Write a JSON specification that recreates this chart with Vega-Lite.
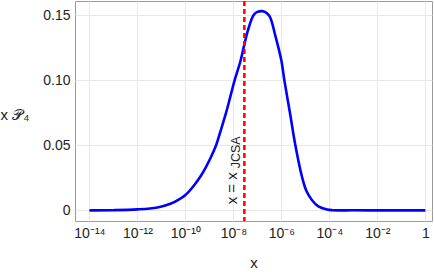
{
  "$schema": "https://vega.github.io/schema/vega-lite/v6.json",
  "width": 357,
  "height": 220,
  "autosize": {"type": "none"},
  "padding": {"left": 75, "top": 1, "right": 2, "bottom": 51},
  "background": "white",
  "config": {
    "view": {"stroke": "#9a9a9a", "strokeWidth": 1},
    "font": "Liberation Sans",
    "axis": {"labelFont": "Liberation Sans", "titleFont": "Liberation Sans", "labelColor": "#222222", "titleColor": "#222222", "titleFontWeight": "normal"}
  },
  "datasets": {
    "curve": [
      {"x": 1e-14, "p": 0},
      {"x": 1e-13, "p": 0.0001},
      {"x": 1e-12, "p": 0.0007},
      {"x": 6.8e-12, "p": 0.0022},
      {"x": 2.37e-11, "p": 0.005},
      {"x": 6.19e-11, "p": 0.009},
      {"x": 1e-10, "p": 0.0117},
      {"x": 2.15e-10, "p": 0.0185},
      {"x": 4.22e-10, "p": 0.026},
      {"x": 6.81e-10, "p": 0.0325},
      {"x": 1.1e-9, "p": 0.04},
      {"x": 1.9e-9, "p": 0.05},
      {"x": 2.87e-9, "p": 0.0605},
      {"x": 4.96e-9, "p": 0.075},
      {"x": 7.5e-9, "p": 0.0875},
      {"x": 1.13e-8, "p": 0.1},
      {"x": 1.96e-8, "p": 0.1145},
      {"x": 2.87e-8, "p": 0.1275},
      {"x": 4.22e-8, "p": 0.1395},
      {"x": 7.01e-8, "p": 0.15},
      {"x": 1e-7, "p": 0.1524},
      {"x": 1.57e-7, "p": 0.153},
      {"x": 2.15e-7, "p": 0.1522},
      {"x": 3.25e-7, "p": 0.149},
      {"x": 5.62e-7, "p": 0.134},
      {"x": 1e-6, "p": 0.115},
      {"x": 1.33e-6, "p": 0.1},
      {"x": 2.37e-6, "p": 0.073},
      {"x": 3.83e-6, "p": 0.05},
      {"x": 7.28e-6, "p": 0.0256},
      {"x": 1.1e-5, "p": 0.015},
      {"x": 1.9e-5, "p": 0.0077},
      {"x": 3.48e-5, "p": 0.003},
      {"x": 8.02e-5, "p": 0.0006},
      {"x": 1.33e-4, "p": 0.0001},
      {"x": 1e-3, "p": 0},
      {"x": 1e-2, "p": 0},
      {"x": 1e-1, "p": 0},
      {"x": 1, "p": 0}
    ]
  },
  "layer": [
    {
      "data": {"name": "curve"},
      "mark": {"type": "line", "color": "#0000ff", "strokeWidth": 2.6, "interpolate": "catmull-rom", "clip": true},
      "encoding": {
        "x": {
          "field": "x", "type": "quantitative",
          "scale": {"type": "log", "domain": [2.5e-15, 1.9], "nice": false},
          "axis": {
            "values": [1e-14, 1e-12, 1e-10, 1e-8, 1e-6, 1e-4, 1e-2, 1],
            "labelExpr": "round(log(datum.value)/LN10) == 0 ? '1' : round(log(datum.value)/LN10) == -2 ? '10⁻²' : round(log(datum.value)/LN10) == -4 ? '10⁻⁴' : round(log(datum.value)/LN10) == -6 ? '10⁻⁶' : round(log(datum.value)/LN10) == -8 ? '10⁻⁸' : round(log(datum.value)/LN10) == -10 ? '10⁻¹⁰' : round(log(datum.value)/LN10) == -12 ? '10⁻¹²' : '10⁻¹⁴'",
            "labelFontSize": 14,
            "labelPadding": 5,
            "ticks": false,
            "domain": false,
            "grid": true, "gridColor": "#e8e8e8", "gridWidth": 1,
            "labelFlush": false,
            "title": "x", "titleFontSize": 15, "titleY": 41, "titleBaseline": "middle"
          }
        },
        "y": {
          "field": "p", "type": "quantitative",
          "scale": {"domain": [-0.0082, 0.1608], "nice": false, "zero": false},
          "axis": {
            "values": [0, 0.05, 0.1, 0.15],
            "labelExpr": "datum.value == 0 ? '0' : format(datum.value, '.2f')",
            "labelFontSize": 14,
            "labelPadding": 5,
            "ticks": false,
            "domain": false,
            "grid": true, "gridColor": "#e8e8e8", "gridWidth": 1,
            "title": "x 𝒫₄", "titleFontSize": 15, "titleAngle": 0,
            "titleAlign": "left", "titleBaseline": "middle",
            "titleX": -75, "titleY": 113
          }
        }
      }
    },
    {
      "data": {"values": [{"xj": 2.87e-8}]},
      "mark": {"type": "rule", "color": "#ff0000", "strokeWidth": 2.5, "strokeDash": [5, 3]},
      "encoding": {"x": {"field": "xj", "type": "quantitative"}}
    },
    {
      "data": {"values": [{"xj": 2.87e-8, "yj": 0.0046, "label": "x = x"}]},
      "mark": {"type": "text", "angle": 270, "align": "left", "baseline": "alphabetic", "dx": 0, "dy": -7, "fontSize": 15, "font": "Liberation Sans", "color": "#222222"},
      "encoding": {
        "x": {"field": "xj", "type": "quantitative"},
        "y": {"field": "yj", "type": "quantitative"},
        "text": {"field": "label"}
      }
    },
    {
      "data": {"values": [{"xj": 2.87e-8, "yj": 0.0046, "label": "JCSA"}]},
      "mark": {"type": "text", "angle": 270, "align": "left", "baseline": "alphabetic", "dx": 36, "dy": -4, "fontSize": 12.5, "font": "Liberation Sans", "color": "#222222"},
      "encoding": {
        "x": {"field": "xj", "type": "quantitative"},
        "y": {"field": "yj", "type": "quantitative"},
        "text": {"field": "label"}
      }
    }
  ]
}
